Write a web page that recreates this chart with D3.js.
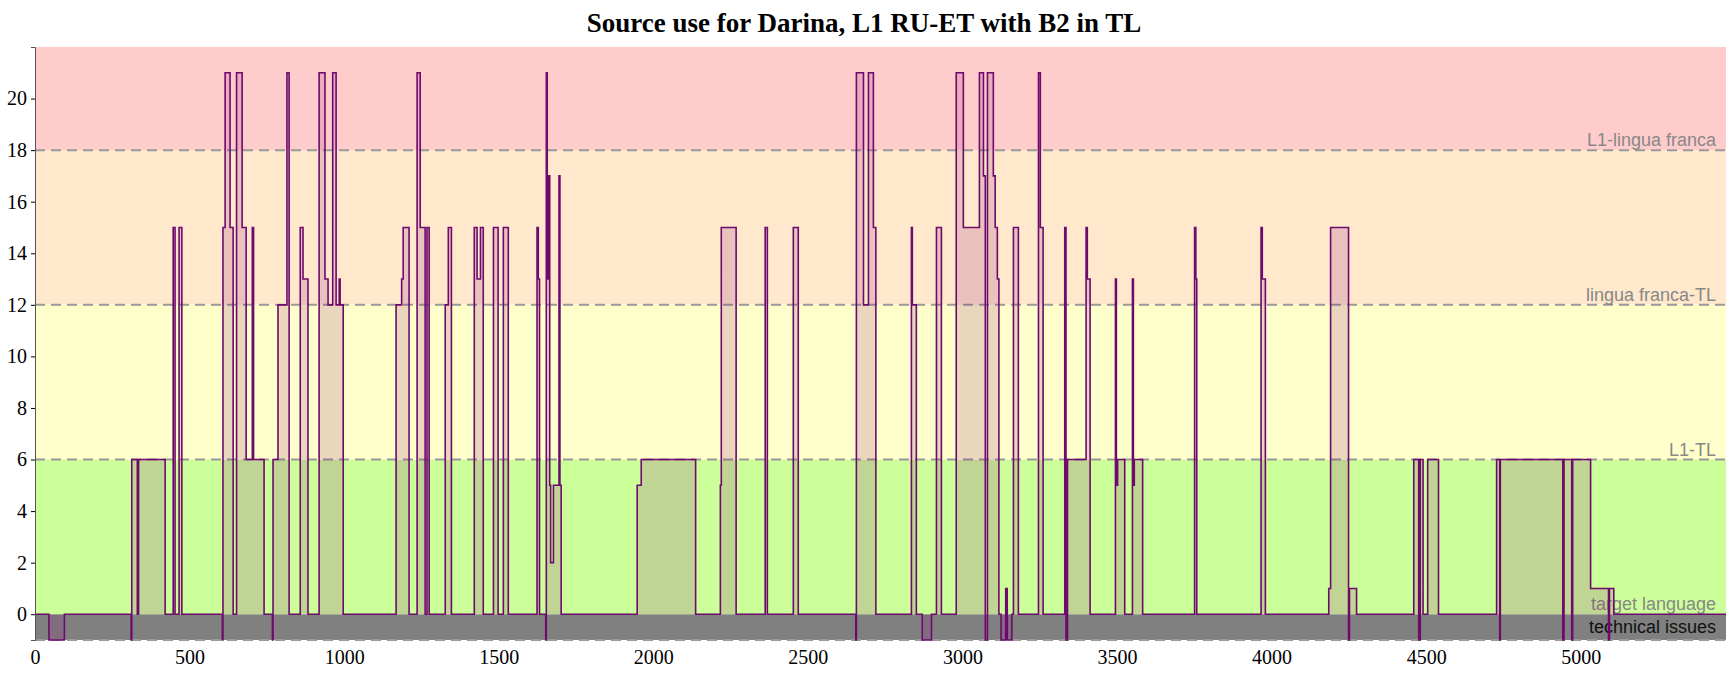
<!DOCTYPE html>
<html>
<head>
<meta charset="utf-8">
<script src="https://cdn.jsdelivr.net/npm/d3@7"></script>
<style>
  body { margin: 0; background: white; }
</style>
</head>
<body>
<div id="chart"></div>
<script>
// step points: time (x) and source-use level (value)
const stepX = [0,45,95,311,313,331,335,421,447,453,466,475,606,608,615,631,641,652,670,683,703,707,741,768,770,786,815,822,858,867,883,
  919,938,948,963,974,984,987,997,1168,1186,1191,1210,1236,1246,1262,1268,1275,1327,1337,1347,1421,1430,1441,1450,1483,1498,1515,1531,
  1624,1628,1632,1652,1654,1657,1662,1665,1668,1677,1695,1698,1702,1948,1961,2137,2217,2220,2268,2362,2369,2453,2469,
  2655,2657,2680,2696,2712,2720,2835,2838,2851,2870,2900,2916,2932,2980,3003,3055,3068,3074,3081,3100,3106,3113,3118,3125,3140,3145,3160,3165,3181,
  3246,3252,3261,3331,3335,3340,3400,3404,3413,3495,3498,3502,3525,3550,3553,3556,3583,3751,3755,3758,3966,3970,3980,
  4185,4191,4249,4252,4275,4460,4476,4481,4490,4505,4540,4728,4738,4740,4942,4946,4971,4974,5032,5090,5093,5107,5470];
const stepV = [0,-1,0,-1,6,0,6,0,15,0,15,0,-1,15,21,15,0,21,15,6,15,6,0,-1,6,12,21,0,15,13,0,
  21,13,12,21,12,13,12,0,12,13,15,0,21,15,0,15,0,12,15,0,15,13,15,0,15,0,15,0,
  15,13,0,-1,21,13,17,5,2,5,17,5,0,5,6,0,5,15,0,15,0,15,0,
  -1,21,12,21,15,0,15,12,0,-1,0,15,0,21,15,21,17,-1,21,17,15,13,0,-1,1,-1,0,15,0,
  21,15,0,15,-1,6,15,13,0,13,5,6,0,13,5,6,0,15,13,0,15,13,0,
  1,15,-1,1,0,6,-1,6,0,6,0,6,-1,6,-1,6,-1,6,1,-1,1,0,0];

const xTicks = [0,500,1000,1500,2000,2500,3000,3500,4000,4500,5000];
const yTicks = [0,2,4,6,8,10,12,14,16,18,20];
const bandLow = [-1,0,6,12,18];
const bandHigh = [0,6,12,18,22];
const bandColors = ['#808080','#ccff99','#ffffcc','#ffe8cc','#ffcccc'];
const levelLines = [-1,6,12,18];
const levelNames = ['L1-lingua franca','lingua franca-TL','L1-TL','target language'];
const levelAt = [18,12,6,0];

const W = 1728, H = 676;
const margin = {top: 47, left: 35, right: 2, bottom: 36};

const svg = d3.select('#chart').append('svg')
  .attr('width', W).attr('height', H);

const x = d3.scaleLinear().domain([0, 5470]).range([margin.left, W - margin.right]);
const y = d3.scaleLinear().domain([-1, 22]).range([H - margin.bottom, margin.top]);

// background bands
svg.selectAll('rect.band').data(bandLow).enter().append('rect')
  .attr('class', 'band')
  .attr('x', x(0)).attr('width', x(5470) - x(0))
  .attr('y', (d, i) => y(bandHigh[i]))
  .attr('height', (d, i) => y(d) - y(bandHigh[i]))
  .style('fill', (d, i) => bandColors[i]);

// dashed level lines
svg.selectAll('line.lvl').data(levelLines).enter().append('line')
  .attr('x1', x(0)).attr('x2', x(5470))
  .attr('y1', d => y(d)).attr('y2', d => y(d))
  .style('stroke', '#999').style('stroke-width', 2).style('stroke-dasharray', '10,6');

// level labels
svg.selectAll('text.lvl').data(levelNames).enter().append('text')
  .attr('x', W - 12)
  .attr('y', (d, i) => y(levelAt[i]) - 4)
  .attr('text-anchor', 'end')
  .style('font-family', 'Liberation Sans, Arial, sans-serif')
  .style('font-size', '18px')
  .style('fill', '#888')
  .text(d => d);

svg.append('text')
  .attr('x', W - 12).attr('y', y(-0.5) + 6)
  .attr('text-anchor', 'end')
  .style('font-family', 'Liberation Sans, Arial, sans-serif')
  .style('font-size', '18px')
  .style('fill', '#111')
  .text('technical issues');

// step series
const pts = stepX.map((d, i) => [d, stepV[i]]);

const area = d3.area()
  .curve(d3.curveStepAfter)
  .x(d => x(d[0])).y0(y(0)).y1(d => y(d[1]));
svg.append('path').datum(pts)
  .attr('d', area)
  .style('fill', 'rgba(140,20,120,0.18)');

const line = d3.line()
  .curve(d3.curveStepAfter)
  .x(d => x(d[0])).y(d => y(d[1]));
svg.append('path').datum(pts)
  .attr('d', line)
  .style('fill', 'none')
  .style('stroke', '#6e0a6e')
  .style('stroke-width', 1.6);

// axes
const xAxis = svg.append('g')
  .attr('transform', `translate(0,${H - margin.bottom})`)
  .call(d3.axisBottom(x).tickValues(xTicks).tickFormat(d3.format('d')).tickSize(0).tickPadding(10));
xAxis.select('.domain').remove();

const yAxis = svg.append('g')
  .attr('transform', `translate(${margin.left},0)`)
  .call(d3.axisLeft(y).tickValues(yTicks).tickSize(4).tickPadding(4));
yAxis.select('.domain').style('stroke', '#555');

svg.selectAll('.tick text')
  .style('font-family', 'Liberation Serif, Times New Roman, serif')
  .style('font-size', '20px')
  .style('fill', '#000');

// title
svg.append('text')
  .attr('x', W / 2).attr('y', 32)
  .attr('text-anchor', 'middle')
  .style('font-family', 'Liberation Serif, Times New Roman, serif')
  .style('font-size', '27px')
  .style('font-weight', 'bold')
  .text('Source use for Darina, L1 RU-ET with B2 in TL');
</script>
</body>
</html>
